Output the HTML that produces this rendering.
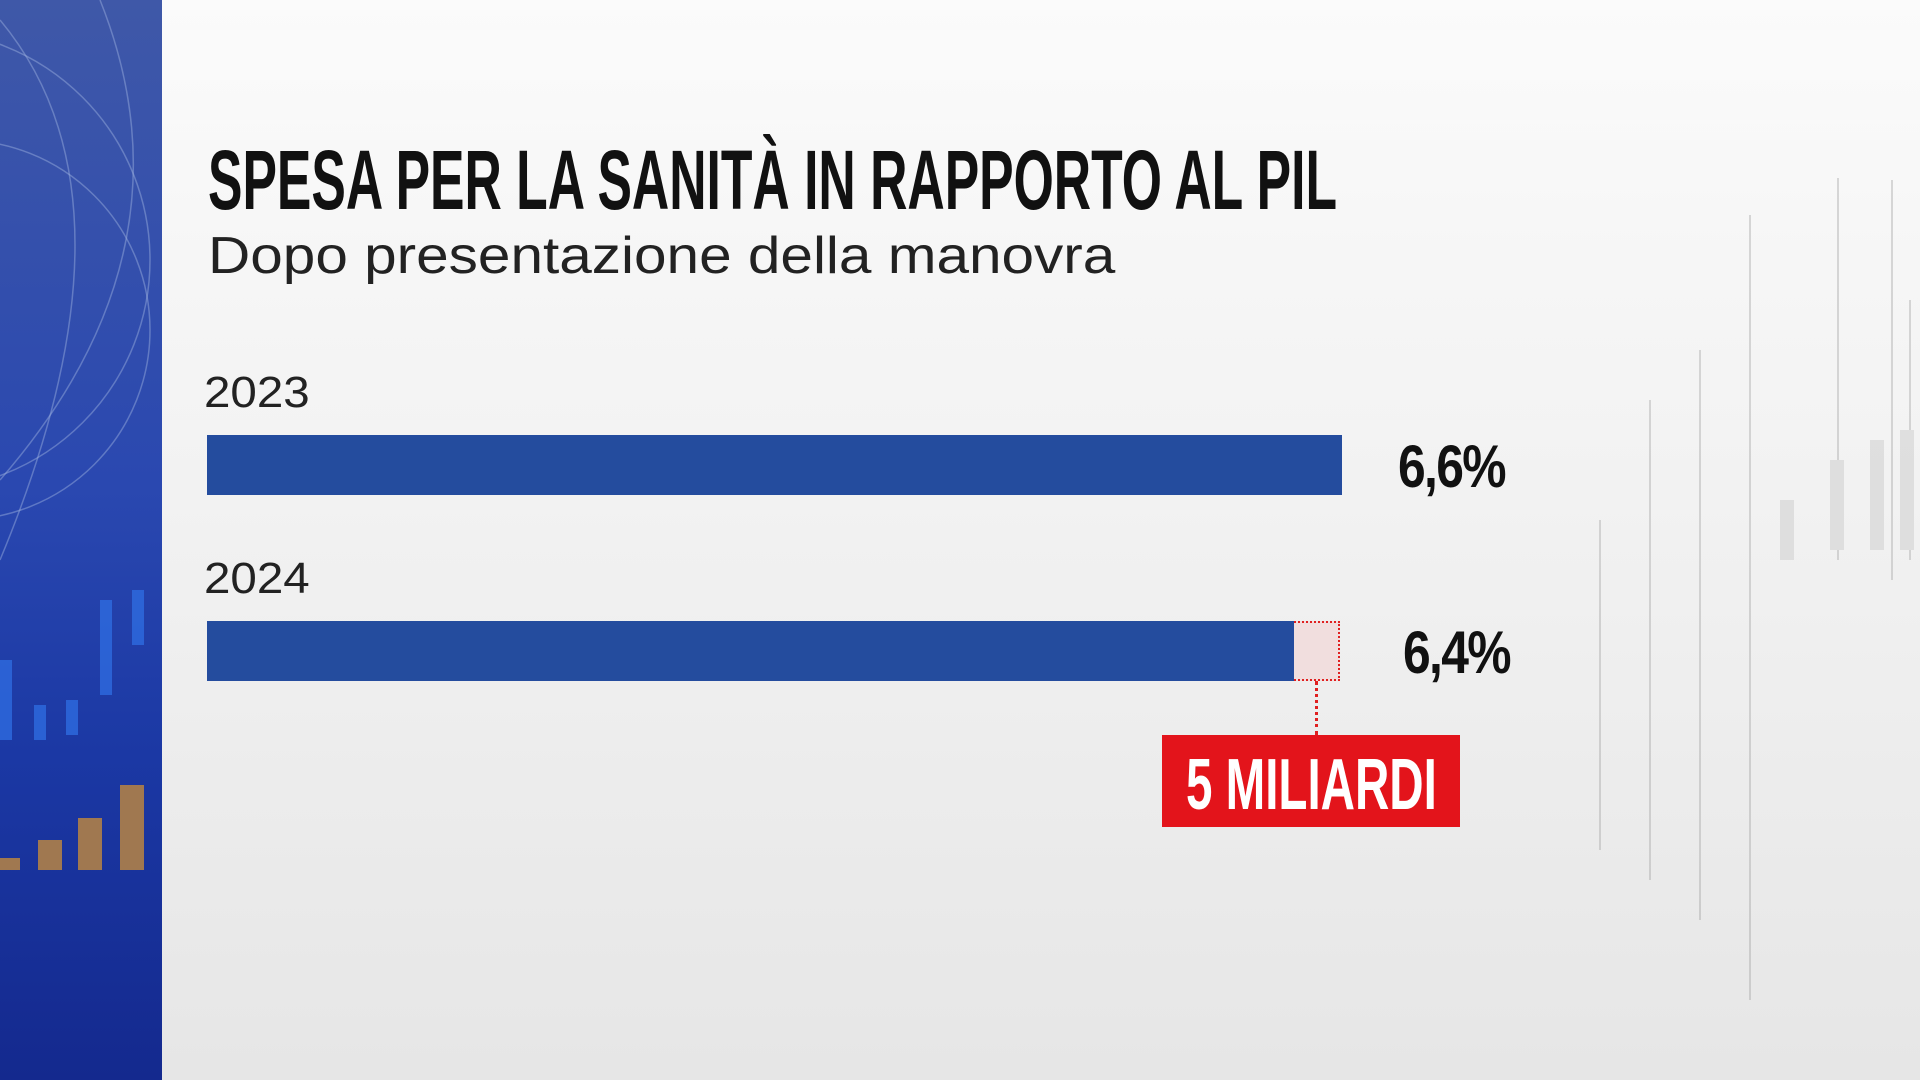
<!DOCTYPE html>
<html><head><meta charset="utf-8">
<style>
html,body{margin:0;padding:0}
body{width:1920px;height:1080px;position:relative;overflow:hidden;
background:linear-gradient(180deg,#fbfbfb 0%,#f1f1f1 50%,#e6e6e6 100%);
font-family:"Liberation Sans",sans-serif}
#side{position:absolute;left:0;top:0;width:162px;height:1080px;
background:linear-gradient(180deg,#3f58a8 0%,#2a48b0 45%,#1b38a4 70%,#14298e 100%)}
.t{position:absolute;white-space:nowrap}
#title{left:208px;top:132px;font-size:84px;font-weight:bold;color:#111;
font-family:"Liberation Sans Narrow","Liberation Sans",sans-serif;transform-origin:0 0;transform:scaleX(0.615)}
#sub{left:208px;top:226px;font-size:52px;color:#222;transform-origin:0 0;transform:scaleX(1.125)}
.yr{left:204px;font-size:44px;color:#222;transform-origin:0 0;transform:scaleX(1.08)}
.bar{position:absolute;background:#244c9e}
.val{font-size:60px;font-weight:bold;color:#111;font-family:"Liberation Sans Narrow","Liberation Sans",sans-serif;transform-origin:0 0;transform:scaleX(0.83);letter-spacing:-2px}
</style></head><body>
<div id="side">
<svg width="162" height="1080" style="position:absolute;left:0;top:0">
<g stroke="#9fb4e0" stroke-opacity="0.45" fill="none" stroke-width="1.5">
<circle cx="-40" cy="330" r="190"/><circle cx="-80" cy="260" r="230"/>
<path d="M0 20 Q150 200 0 560"/><path d="M100 0 Q200 250 0 480"/>
</g>
<g fill="#2e6be0" opacity="0.8">
<rect x="0" y="660" width="12" height="80"/><rect x="34" y="705" width="12" height="35"/><rect x="66" y="700" width="12" height="35"/><rect x="100" y="600" width="12" height="95"/><rect x="132" y="590" width="12" height="55"/>
</g>
<g fill="#a07850"><rect x="0" y="858" width="20" height="12"/><rect x="38" y="840" width="24" height="30"/><rect x="78" y="818" width="24" height="52"/><rect x="120" y="785" width="24" height="85"/></g>
</svg>
</div>
<svg width="520" height="1080" style="position:absolute;left:1400px;top:0" opacity="0.35">
<g stroke="#999" stroke-width="2">
<line x1="350" y1="215" x2="350" y2="1000"/><line x1="438" y1="178" x2="438" y2="560"/><line x1="492" y1="180" x2="492" y2="580"/><line x1="510" y1="300" x2="510" y2="560"/>
<line x1="300" y1="350" x2="300" y2="920"/><line x1="250" y1="400" x2="250" y2="880"/><line x1="200" y1="520" x2="200" y2="850"/>
</g>
<g fill="#bbb"><rect x="430" y="460" width="14" height="90"/><rect x="470" y="440" width="14" height="110"/><rect x="500" y="430" width="14" height="120"/><rect x="380" y="500" width="14" height="60"/></g>
</svg>
<div class="t" id="title">SPESA PER LA SANITÀ IN RAPPORTO AL PIL</div>
<div class="t" id="sub">Dopo presentazione della manovra</div>
<div class="t yr" style="top:368px">2023</div>
<div class="bar" style="left:207px;top:435px;width:1135px;height:60px"></div>
<div class="t val" style="left:1398px;top:432px">6,6%</div>
<div class="t yr" style="top:554px">2024</div>
<div class="bar" style="left:207px;top:621px;width:1087px;height:60px"></div>
<div style="position:absolute;left:1294px;top:621px;width:44px;height:56px;background:#f1dede;border:2px dotted #e02020;border-left:none"></div>
<div style="position:absolute;left:1315px;top:681px;height:54px;border-left:3px dotted #e02020"></div>
<div class="t val" style="left:1403px;top:618px">6,4%</div>
<div style="position:absolute;left:1162px;top:735px;width:298px;height:92px;background:#e3141b"></div>
<div class="t" style="left:1186px;top:744px;font-size:72px;font-weight:bold;color:#fff;font-family:'Liberation Sans Narrow','Liberation Sans',sans-serif;transform-origin:0 0;transform:scaleX(0.66)">5 MILIARDI</div>
</body></html>
